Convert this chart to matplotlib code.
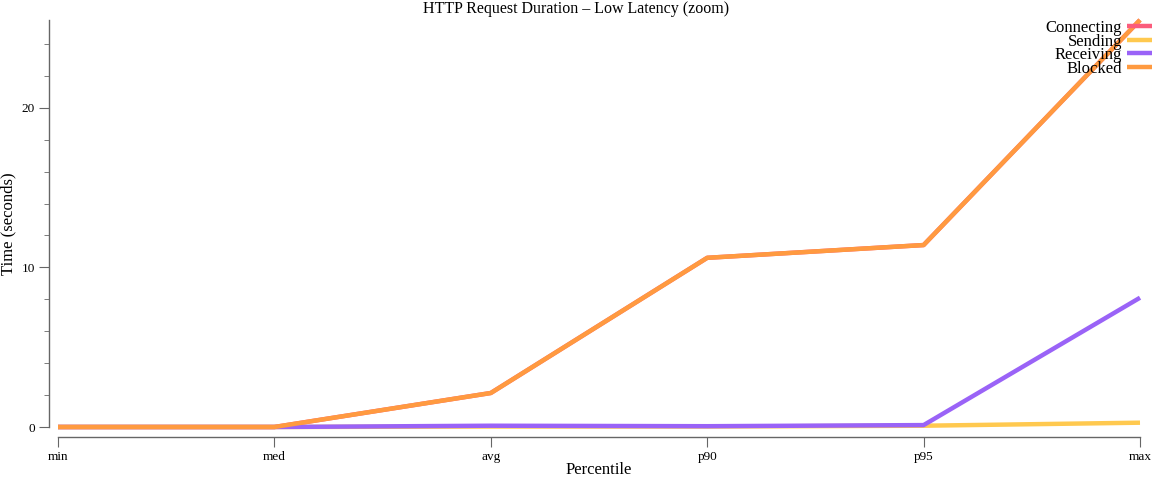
import matplotlib
matplotlib.use("Agg")
import matplotlib.pyplot as plt
from matplotlib.ticker import MultipleLocator

plt.rcParams['font.family'] = ['Liberation Serif', 'DejaVu Serif']

percentiles = ['min', 'med', 'avg', 'p90', 'p95', 'max']
connecting = [0.0, 0.0, 2.13, 10.6, 11.4, 25.5]
sending = [0.0, 0.0, 0.03, 0.03, 0.08, 0.27]
receiving = [0.0, 0.0, 0.08, 0.05, 0.12, 8.1]
blocked = [0.0, 0.0, 2.13, 10.6, 11.4, 25.5]

series = [
    ('Connecting', connecting, '#fb5c7c'),
    ('Sending', sending, '#ffc94f'),
    ('Receiving', receiving, '#9a63f7'),
    ('Blocked', blocked, '#ff9a40'),
]

fig = plt.figure(figsize=(11.52, 4.8), dpi=100)
ax = fig.add_axes([58 / 1152, 53 / 480, 1082 / 1152, 407 / 480])

x = list(range(len(percentiles)))
for name, vals, col in series:
    ax.plot(x, vals, color=col, lw=3.2, label=name, clip_on=False, solid_capstyle='butt')

ax.set_xlim(0, len(percentiles) - 1)
ax.set_ylim(0, 25.5)
ax.set_xticks(x)
ax.set_xticklabels(percentiles)
ax.yaxis.set_major_locator(MultipleLocator(10))
ax.yaxis.set_minor_locator(MultipleLocator(2))

# d3-like detached axes (offsets in points: px / 1.389)
for s in ['top', 'right']:
    ax.spines[s].set_visible(False)
ax.spines['left'].set_position(('outward', 6.5))
ax.spines['bottom'].set_position(('outward', 7.2))
for s in ['left', 'bottom']:
    ax.spines[s].set_color('#666666')
    ax.spines[s].set_linewidth(1.0)

ax.tick_params(axis='both', which='major', length=7, color='#666666', labelsize=9.5, pad=3)
ax.tick_params(axis='y', which='minor', length=3.6, color='#666666')

ax.set_xlabel('Percentile', fontsize=12)
ax.set_ylabel('Time (seconds)', fontsize=12)
ax.xaxis.set_label_coords(0.5, (427 - 462) / 407)
ax.yaxis.set_label_coords((16 - 58) / 1082, 0.5)
fig.text(0.5, 0.998, 'HTTP Request Duration – Low Latency (zoom)', ha='center', va='top', fontsize=11.5)

leg = ax.legend(loc='upper right', bbox_to_anchor=(1.0 + 12 / 1082, 1.0), frameon=False,
                markerfirst=False, fontsize=12, handlelength=1.5, handletextpad=0.3,
                labelspacing=-0.15, borderaxespad=0, borderpad=0)
for t in leg.get_texts():
    t.set_ha('right')
leg._legend_box.align = 'right'

fig.savefig('out.png', dpi=100)
